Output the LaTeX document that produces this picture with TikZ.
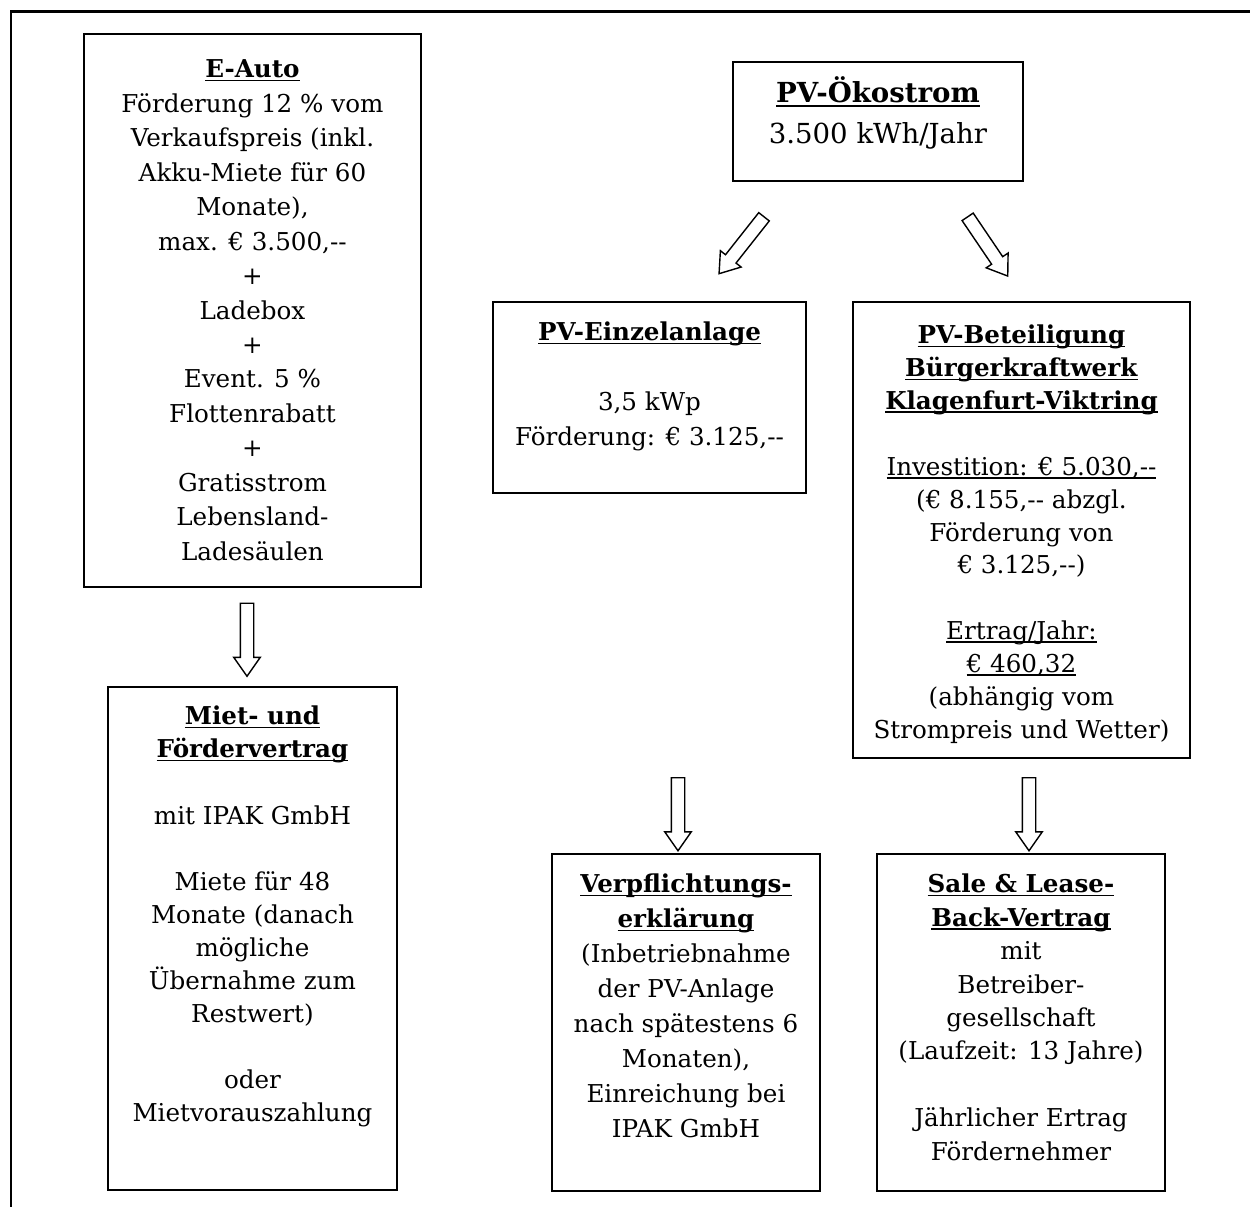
\documentclass[tikz,border=0pt]{standalone}
\usepackage{fontspec}
\setmainfont{DejaVu Serif}
\usepackage{tikz}
\usetikzlibrary{shapes.arrows}

\newcommand{\ulline}[1]{\leavevmode\setbox0\hbox{#1}\rlap{\rule[-0.14em]{\wd0}{0.07em}}\box0}
\newcommand{\boxtext}[2][14pt]{\centering\fontsize{#1}{#2}\selectfont}

\begin{document}
\begin{tikzpicture}[
    box/.style={draw, line width=1.1pt, anchor=north west, inner sep=0pt},
    blockarrow/.style={draw, single arrow, line width=0.8pt,
                       inner xsep=0pt, inner ysep=0.12cm,
                       single arrow head extend=0.13cm,
                       single arrow tip angle=70, minimum height=1.46cm}
  ]

    \useasboundingbox (0,0) rectangle (25,24.14);

    % Page frame
    \draw[line width=1.7pt] (0.22,-0.5) -- (0.22,23.91) -- (25.5,23.91);

    % E-Auto
    \node[box] (eauto) at (1.66, 23.48) {%
      \begin{minipage}[c][11.06cm][t]{6.74cm}
        \boxtext{19.6pt}
        \rule{0pt}{0.88cm}\ulline{\textbf{E-Auto}} \\
        Förderung 12 \% vom \\
        Verkaufspreis (inkl. \\
        Akku-Miete für 60 \\
        Monate), \\
        max. € 3.500,-{}- \\
        + \\
        Ladebox \\
        + \\
        Event. 5 \% \\
        Flottenrabatt \\
        + \\
        Gratisstrom \\
        Lebensland- \\
        Ladesäulen
      \end{minipage}%
    };

    % Miet- und Foerdervertrag
    \node[box] (mietvertrag) at (2.14, 10.42) {%
      \begin{minipage}[c][10.06cm][t]{5.78cm}
        \boxtext{18.8pt}
        \rule{0pt}{0.76cm}\ulline{\textbf{Miet- und}} \\
        \ulline{\textbf{Fördervertrag}} \\[\baselineskip]
        mit IPAK GmbH \\[\baselineskip]
        Miete für 48 \\
        Monate (danach \\
        mögliche \\
        Übernahme zum \\
        Restwert) \\[\baselineskip]
        oder \\
        Mietvorauszahlung
      \end{minipage}%
    };

    % PV-Oekostrom
    \node[box] (oekostrom) at (14.64, 22.92) {%
      \begin{minipage}[c][2.38cm][t]{5.80cm}
        \boxtext[15.7pt]{22.8pt}
        \rule{0pt}{0.82cm}\ulline{\textbf{PV-Ökostrom}} \\
        3.500 kWh/Jahr
      \end{minipage}%
    };

    % PV-Einzelanlage
    \node[box] (einzelanlage) at (9.84, 18.12) {%
      \begin{minipage}[c][3.82cm][t]{6.26cm}
        \boxtext{19.9pt}
        \rule{0pt}{0.78cm}\ulline{\textbf{PV-Einzelanlage}} \\[\baselineskip]
        3,5 kWp \\
        Förderung: € 3.125,-{}-
      \end{minipage}%
    };

    % PV-Beteiligung
    \node[box] (beteiligung) at (17.04, 18.12) {%
      \begin{minipage}[c][9.12cm][t]{6.74cm}
        \boxtext{18.7pt}
        \rule{0pt}{0.84cm}\ulline{\textbf{PV-Beteiligung}} \\
        \ulline{\textbf{Bürgerkraftwerk}} \\
        \ulline{\textbf{Klagenfurt-Viktring}} \\[\baselineskip]
        \ulline{Investition: € 5.030,-{}-} \\
        (€ 8.155,-{}- abzgl. \\
        Förderung von \\
        € 3.125,-{}-) \\[\baselineskip]
        \ulline{Ertrag/Jahr:} \\
        \ulline{€ 460,32} \\
        (abhängig vom \\
        Strompreis und Wetter)
      \end{minipage}%
    };

    % Verpflichtungserklaerung
    \node[box] (verpflichtung) at (11.02, 7.08) {%
      \begin{minipage}[c][6.74cm][t]{5.36cm}
        \boxtext{19.9pt}
        \rule{0pt}{0.78cm}\ulline{\textbf{Verpflichtungs-}} \\
        \ulline{\textbf{erklärung}} \\
        (Inbetriebnahme \\
        der PV-Anlage \\
        nach spätestens 6 \\
        Monaten), \\
        Einreichung bei \\
        IPAK GmbH
      \end{minipage}%
    };

    % Sale & Lease-Back
    \node[box] (leaseback) at (17.52, 7.08) {%
      \begin{minipage}[c][6.74cm][t]{5.76cm}
        \boxtext{19pt}
        \rule{0pt}{0.78cm}\ulline{\textbf{Sale \& Lease-}} \\
        \ulline{\textbf{Back-Vertrag}} \\
        mit \\
        Betreiber- \\
        gesellschaft \\
        (Laufzeit: 13 Jahre) \\[\baselineskip]
        Jährlicher Ertrag \\
        Fördernehmer
      \end{minipage}%
    };

    % --------------------
    % Arrows
    % --------------------

    \node[blockarrow, rotate=-90] (arrowauto) at (4.94, 11.44) {};
    \node[blockarrow, rotate=-128.3, minimum height=1.45cm] (arroweinzel) at (14.89, 19.31) {};
    \node[blockarrow, rotate=-55.9, minimum height=1.43cm] (arrowbeteil) at (19.70, 19.29) {};
    \node[blockarrow, rotate=-90] (arrowverpfl) at (13.56, 7.95) {};
    \node[blockarrow, rotate=-90] (arrowlease) at (20.58, 7.95) {};

\end{tikzpicture}
\end{document}
